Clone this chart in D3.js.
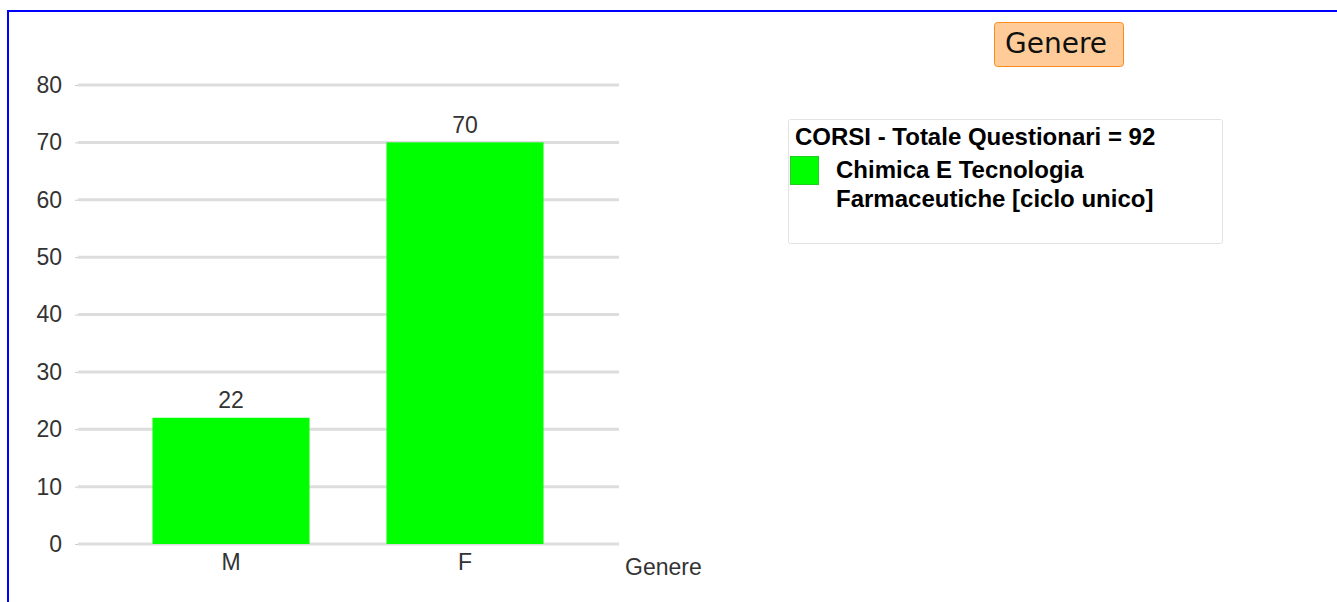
<!DOCTYPE html>
<html>
<head>
<meta charset="utf-8">
<script src="https://cdn.jsdelivr.net/npm/d3@7"></script>
<style>
  body { margin: 0; background: #fff; }
  svg { display: block; }
</style>
</head>
<body>
<script>
var categories = ["M", "F"];
var values = [22, 70];
var yTicks = [0, 10, 20, 30, 40, 50, 60, 70, 80];
var seriesName = ["Chimica E Tecnologia", "Farmaceutiche [ciclo unico]"];
var legendTitle = "CORSI - Totale Questionari = 92";
var axisTitle = "Genere";
var buttonText = "Genere";

var width = 1337, height = 602;
var barColor = "#00ff00";
var font = "'Liberation Sans', Arial, sans-serif";
var axisFont = "23px";

var svg = d3.select("body").append("svg")
    .attr("width", width)
    .attr("height", height);

// blue frame (top + left only)
svg.append("path")
    .attr("d", "M8,602 L8,11 L1337,11")
    .attr("fill", "none")
    .attr("stroke", "#0000ff")
    .attr("stroke-width", 2);

var x = d3.scaleBand()
    .domain(categories)
    .range([77, 619])
    .paddingInner(0.329)
    .paddingOuter(0.3225);

var y = d3.scaleLinear()
    .domain([0, 80])
    .range([544, 85]);

// gridlines
svg.append("g").selectAll("line")
    .data(yTicks)
    .enter().append("line")
    .attr("x1", 78).attr("x2", 619)
    .attr("y1", function(d) { return y(d); })
    .attr("y2", function(d) { return y(d); })
    .attr("stroke", "#dddddd")
    .attr("stroke-width", 3);

// y axis
var yAxis = d3.axisLeft(y).tickValues(yTicks).tickSize(3).tickPadding(13);
var gy = svg.append("g")
    .attr("transform", "translate(78,0)")
    .call(yAxis);
gy.select(".domain").remove();
gy.selectAll(".tick line").attr("stroke", "#cccccc");
gy.selectAll(".tick text")
    .attr("fill", "#333")
    .style("font-family", font)
    .style("font-size", axisFont);

// bars
svg.append("g").selectAll("rect")
    .data(values)
    .enter().append("rect")
    .attr("x", function(d, i) { return x(categories[i]); })
    .attr("width", x.bandwidth())
    .attr("y", function(d) { return y(d); })
    .attr("height", function(d) { return y(0) - y(d); })
    .attr("fill", barColor);

// value labels
svg.append("g").selectAll("text")
    .data(values)
    .enter().append("text")
    .attr("x", function(d, i) { return x(categories[i]) + x.bandwidth() / 2; })
    .attr("y", function(d) { return y(d) - 9.5; })
    .attr("text-anchor", "middle")
    .attr("fill", "#333")
    .style("font-family", font)
    .style("font-size", axisFont)
    .text(function(d) { return d; });

// x axis labels
var xAxis = d3.axisBottom(x).tickSize(0).tickPadding(9);
var gx = svg.append("g")
    .attr("transform", "translate(0,545)")
    .call(xAxis);
gx.select(".domain").remove();
gx.selectAll(".tick text")
    .attr("fill", "#333")
    .style("font-family", font)
    .style("font-size", axisFont);

svg.append("text")
    .attr("x", 625).attr("y", 575)
    .attr("fill", "#333")
    .style("font-family", font)
    .style("font-size", axisFont)
    .text(axisTitle);

// "Genere" button
svg.append("rect")
    .attr("x", 994.5).attr("y", 22.5)
    .attr("width", 129).attr("height", 44)
    .attr("rx", 3)
    .attr("fill", "#ffcc99")
    .attr("stroke", "#ff8c1a")
    .attr("stroke-width", 1);
svg.append("text")
    .attr("x", 1056).attr("y", 53)
    .attr("text-anchor", "middle")
    .attr("fill", "#111")
    .style("font-family", "'DejaVu Sans', Verdana, sans-serif")
    .style("font-size", "28px")
    .text(buttonText);

// legend
var lg = svg.append("g");
lg.append("rect")
    .attr("x", 788.5).attr("y", 119.5)
    .attr("width", 434).attr("height", 124)
    .attr("rx", 2)
    .attr("fill", "#fff")
    .attr("stroke", "#e3e3e3");
lg.append("text")
    .attr("x", 795).attr("y", 145)
    .attr("fill", "#000")
    .style("font-family", font)
    .style("font-size", "24px")
    .style("font-weight", "bold")
    .text(legendTitle);
lg.append("rect")
    .attr("x", 790.5).attr("y", 156.5)
    .attr("width", 28).attr("height", 28)
    .attr("fill", barColor)
    .attr("stroke", "#22cc22");
lg.selectAll("text.item")
    .data(seriesName)
    .enter().append("text")
    .attr("class", "item")
    .attr("x", 836)
    .attr("y", function(d, i) { return 178 + i * 29; })
    .attr("fill", "#000")
    .style("font-family", font)
    .style("font-size", "24px")
    .style("font-weight", "bold")
    .text(function(d) { return d; });
</script>
</body>
</html>
